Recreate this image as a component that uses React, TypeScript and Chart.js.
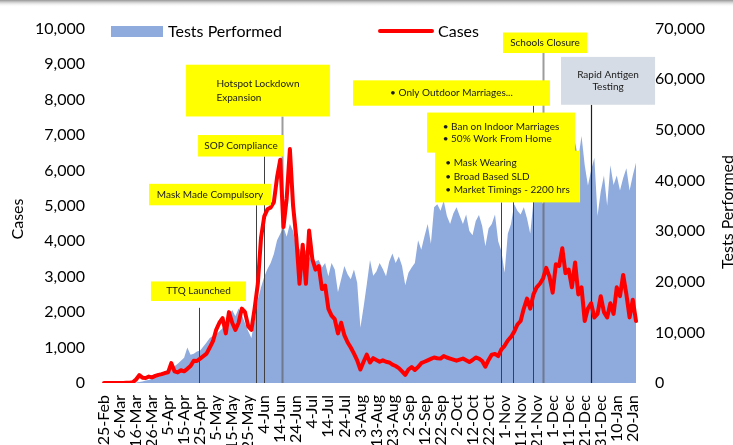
import React, { useEffect, useRef } from 'react';
import { Chart, registerables } from 'chart.js';

Chart.register(...registerables);

const MONTHS = ['Jan', 'Feb', 'Mar', 'Apr', 'May', 'Jun', 'Jul', 'Aug', 'Sep', 'Oct', 'Nov', 'Dec'];
const START = Date.UTC(2020, 1, 25);
const STEP_DAYS = 2;

// Cases (left axis), every 2 days from 25-Feb-2020
const cases: number[] = [
  0, 0, 0, 0, 0, 0, 0, 5, 10, 20,
  100, 220, 150, 140, 180, 160, 200, 230, 250, 280,
  300, 560, 330, 300, 360, 330, 400, 480, 630, 620,
  690, 760, 830, 1000, 1180, 1500, 1700, 1830, 1400, 2000,
  1700, 1500, 1700, 2100, 2000, 1600, 1500, 2100, 2800, 4100,
  4700, 4900, 4950, 5100, 5800, 6300, 4400, 5200, 6600, 5000,
  4100, 2800, 3900, 2800, 4300, 3500, 3200, 3300, 2650, 2750,
  2100, 1900, 1800, 1400, 1700, 1350, 1150, 1000, 830, 640,
  380, 600, 800, 580, 700, 650, 600, 640, 600, 580,
  520, 480, 420, 330, 230, 380, 450, 370, 450, 560,
  600, 640, 680, 720, 700, 690, 760, 720, 690, 660,
  630, 660, 690, 640, 590, 650, 720, 690, 620, 460,
  650, 800, 820, 760, 950, 1050, 1200, 1300, 1450, 1650,
  1750, 2100, 2380, 2100, 2500, 2700, 2800, 2950, 3250, 3000,
  2550, 3350, 3300, 3800, 3100, 3200, 2700, 3400, 2500, 2700,
  1750, 2100, 2250, 1850, 1950, 2450, 2000, 1850, 2250, 1950,
  2700, 2450, 3050, 2500, 1850, 2350, 1750,
];

// Tests performed (right axis)
const tests: number[] = [
  0, 0, 0, 0, 0, 0, 0, 0, 0, 0,
  100, 200, 300, 500, 600, 900, 1300, 1600, 2000, 2300,
  2600, 3000, 3300, 3800, 4400, 5000, 7000, 5600, 5800, 6200,
  6400, 7200, 8000, 8900, 9300, 9600, 10200, 10800, 12000, 13300,
  14400, 13200, 14700, 13500, 11800, 10200, 8900, 12500, 16500, 18900,
  21000, 22500, 23700, 25500, 28200, 29500, 30800, 28900, 31400, 30000,
  27000, 26500, 25000, 26300, 25000, 23700, 24000, 24300, 22800, 23700,
  21100, 23700, 22400, 17900, 20500, 23100, 21500, 20500, 22400, 19800,
  10900, 15000, 19500, 24300, 21200, 22000, 23700, 22500, 21100, 24000,
  25600, 23700, 25000, 23100, 19300, 21800, 22800, 23700, 28200, 26300,
  29000, 31400, 27500, 34700, 35300, 34000, 36000, 33000, 31400, 33500,
  34700, 33000, 31400, 33300, 30000, 29200, 32000, 33200, 31000, 27000,
  30500, 31400, 33300, 28000, 26000, 21800, 29500, 31400, 35300, 34000,
  33300, 34700, 32500, 29500, 35900, 36200, 36500, 35300, 37000, 40000,
  44300, 46000, 46800, 44300, 48200, 45600, 49500, 47500, 44300, 48800,
  43000, 39000, 42000, 44500, 33000, 37800, 41000, 35000, 43000, 39100,
  41000, 38000, 40500, 42400, 38000, 41000, 43500,
];

const categories: string[] = cases.map((_, i) => {
  const d = new Date(START + i * STEP_DAYS * 86400000);
  return `${d.getUTCDate()}-${MONTHS[d.getUTCMonth()]}`;
});

const TICK_EVERY = 5; // one label every 10 days

// Events: day offset from 25-Feb and the label text
const eventDays = [59, 95, 100, 111, 248, 255, 268, 274, 304];

const FONT = 'Lato, "Open Sans", sans-serif';
const YELLOW = '#FFFF00';
const AREA = '#8FAADC';

type Ann = {
  lines: string[];
  day: number;
  lineTop: number;
  box: [number, number, number, number]; // dayStart, dayEnd, casesTop, casesBottom
  align: 'center' | 'block';
  fill: string;
  lh: number;
  lineColor: string;
  lineWidth: number;
};

const annotations: Ann[] = [
  { lines: ['TTQ Launched'], day: eventDays[0], lineTop: 2121, box: [29.3, 88.6, 2865, 2314], align: 'center', fill: YELLOW, lh: 13, lineColor: '#404040', lineWidth: 1 },
  { lines: ['Mask Made Compulsory'], day: eventDays[1], lineTop: 5014, box: [28.1, 104.2, 5620, 5014], align: 'center', fill: YELLOW, lh: 13, lineColor: '#404040', lineWidth: 1 },
  { lines: ['SOP Compliance'], day: eventDays[2], lineTop: 6391, box: [58.7, 112.3, 6997, 6391], align: 'center', fill: YELLOW, lh: 13, lineColor: '#404040', lineWidth: 1 },
  { lines: ['Hotspot Lockdown', 'Expansion'], day: eventDays[3], lineTop: 7521, box: [51.2, 141.0, 8981, 7521], align: 'block', fill: YELLOW, lh: 14, lineColor: 'rgba(90,90,90,0.6)', lineWidth: 2 },
  { lines: ['\u2022 Mask Wearing', '\u2022 Broad Based SLD', '\u2022 Market Timings - 2200 hrs'], day: eventDays[4], lineTop: 5096, box: [206.6, 297.1, 6556, 5096], align: 'block', fill: YELLOW, lh: 13.5, lineColor: '#404040', lineWidth: 1 },
  { lines: ['\u2022 Ban on Indoor Marriages', '\u2022 50% Work From Home'], day: eventDays[5], lineTop: 6501, box: [201.6, 293.9, 7631, 6501], align: 'block', fill: YELLOW, lh: 12, lineColor: '#404040', lineWidth: 1 },
  { lines: ['\u2022 Only Outdoor Marriages...'], day: eventDays[6], lineTop: 7824, box: [155.4, 278.3, 8540, 7824], align: 'center', fill: YELLOW, lh: 13, lineColor: '#404040', lineWidth: 1 },
  { lines: ['Schools Closure'], day: eventDays[7], lineTop: 9311, box: [249.0, 301.4, 9890, 9311], align: 'center', fill: YELLOW, lh: 13, lineColor: 'rgba(90,90,90,0.6)', lineWidth: 2 },
  { lines: ['Rapid Antigen', 'Testing'], day: eventDays[8], lineTop: 7851, box: [285.2, 343.9, 9201, 7851], align: 'center', fill: '#D6DCE5', lh: 12, lineColor: '#202020', lineWidth: 1.2 },
];

const boxOrder = [0, 1, 2, 3, 6, 5, 4, 7, 8];

const overlayPlugin = {
  id: 'overlay',
  beforeDraw(chart: any) {
    const ctx = chart.ctx;
    ctx.save();
    ctx.fillStyle = '#ffffff';
    ctx.fillRect(0, 0, chart.width, chart.height);
    const g = ctx.createLinearGradient(0, 0, 0, 7);
    g.addColorStop(0, 'rgba(130,130,130,0.85)');
    g.addColorStop(1, 'rgba(255,255,255,0)');
    ctx.fillStyle = g;
    ctx.fillRect(0, 0, chart.width, 7);
    ctx.restore();
  },
  afterDatasetDraw(chart: any, args: any) {
    if (args.index !== 1) return;
    const ctx = chart.ctx;
    const xs = chart.scales.x;
    const ys = chart.scales.y;
    ctx.save();
    annotations.forEach((a) => {
      const x = Math.round(xs.getPixelForValue(a.day / STEP_DAYS)) + 0.5;
      ctx.strokeStyle = a.lineColor;
      ctx.lineWidth = a.lineWidth;
      ctx.beginPath();
      ctx.moveTo(x, ys.getPixelForValue(a.lineTop));
      ctx.lineTo(x, ys.getPixelForValue(0));
      ctx.stroke();
    });
    ctx.restore();
  },
  afterDraw(chart: any) {
    const ctx = chart.ctx;
    const xs = chart.scales.x;
    const ys = chart.scales.y;
    ctx.save();
    boxOrder.forEach((k) => {
      const a = annotations[k];
      const x1 = xs.getPixelForValue(a.box[0] / STEP_DAYS);
      const x2 = xs.getPixelForValue(a.box[1] / STEP_DAYS);
      const y1 = ys.getPixelForValue(a.box[2]);
      const y2 = ys.getPixelForValue(a.box[3]);
      ctx.fillStyle = a.fill;
      ctx.fillRect(x1, y1, x2 - x1, y2 - y1);
      ctx.font = `10px ${FONT}`;
      ctx.fillStyle = '#1a1a1a';
      ctx.textBaseline = 'middle';
      const cx = (x1 + x2) / 2;
      const cy = (y1 + y2) / 2;
      const n = a.lines.length;
      const maxW = Math.max(...a.lines.map((t) => ctx.measureText(t).width));
      a.lines.forEach((t, i) => {
        const ty = cy + (i - (n - 1) / 2) * a.lh;
        if (a.align === 'center') {
          ctx.textAlign = 'center';
          ctx.fillText(t, cx, ty);
        } else {
          ctx.textAlign = 'left';
          ctx.fillText(t, cx - maxW / 2, ty);
        }
      });
    });

    // legend
    ctx.fillStyle = AREA;
    ctx.fillRect(111, 26, 52, 11);
    ctx.font = `16px ${FONT}`;
    ctx.fillStyle = '#000';
    ctx.textAlign = 'left';
    ctx.textBaseline = 'middle';
    ctx.fillText('Tests Performed', 168, 32);
    ctx.strokeStyle = '#FF0000';
    ctx.lineWidth = 4;
    ctx.lineCap = 'round';
    ctx.beginPath();
    ctx.moveTo(380, 31);
    ctx.lineTo(432, 31);
    ctx.stroke();
    ctx.fillText('Cases', 438, 32);

    // axis titles
    ctx.font = `16px ${FONT}`;
    ctx.textAlign = 'center';
    ctx.textBaseline = 'alphabetic';
    ctx.save();
    ctx.translate(23, 219);
    ctx.rotate(-Math.PI / 2);
    ctx.fillText('Cases', 0, 0);
    ctx.restore();
    ctx.save();
    ctx.translate(733, 212);
    ctx.rotate(-Math.PI / 2);
    ctx.fillText('Tests Performed', 0, 0);
    ctx.restore();
    ctx.restore();
  },
};

const fmt = (v: any) => Number(v).toLocaleString('en-US');

export default function App() {
  const ref = useRef<HTMLCanvasElement | null>(null);
  useEffect(() => {
    document.body.style.margin = '0';
    const canvas = ref.current;
    if (!canvas) return;
    const tickFont = { family: FONT, size: 16 };
    const chart = new Chart(canvas, {
      type: 'line',
      data: {
        labels: categories,
        datasets: [
          {
            label: 'Cases',
            data: cases,
            yAxisID: 'y',
            borderColor: '#FF0000',
            borderWidth: 4,
            borderJoinStyle: 'round',
            borderCapStyle: 'round',
            pointRadius: 0,
            tension: 0,
            fill: false,
            order: 0,
          },
          {
            label: 'Tests Performed',
            data: tests,
            yAxisID: 'y1',
            backgroundColor: AREA,
            borderColor: 'rgba(0,0,0,0)',
            borderWidth: 0,
            pointRadius: 0,
            tension: 0,
            fill: 'origin',
            order: 1,
          },
        ],
      },
      options: {
        responsive: false,
        animation: false,
        layout: { padding: { top: 20, left: 0, right: 0, bottom: 0 } },
        plugins: { legend: { display: false }, tooltip: { enabled: false } },
        scales: {
          x: {
            type: 'category',
            offset: false,
            grid: { display: false, drawTicks: false },
            border: { display: false },
            ticks: {
              autoSkip: false,
              maxRotation: 90,
              minRotation: 90,
              padding: 12,
              color: '#000',
              font: tickFont,
              callback: (_v: any, i: number) => (i % TICK_EVERY === 0 ? categories[i] : null),
            },
            afterFit: (s: any) => { s.height = 62; },
          },
          y: {
            position: 'left',
            min: 0,
            max: 10000,
            grid: { display: false, drawTicks: false },
            border: { display: false },
            ticks: { stepSize: 1000, padding: 19, color: '#000', font: tickFont, callback: fmt },
            afterFit: (s: any) => { s.width = 104; },
          },
          y1: {
            position: 'right',
            min: 0,
            max: 70000,
            grid: { display: false, drawTicks: false },
            border: { display: false },
            ticks: { stepSize: 10000, padding: 19, color: '#000', font: tickFont, callback: fmt },
            afterFit: (s: any) => { s.width = 97; },
          },
        },
      },
      plugins: [overlayPlugin],
    } as any);
    return () => chart.destroy();
  }, []);
  return <canvas ref={ref} width={733} height={445} style={{ display: 'block', width: 733, height: 445 }} />;
}
